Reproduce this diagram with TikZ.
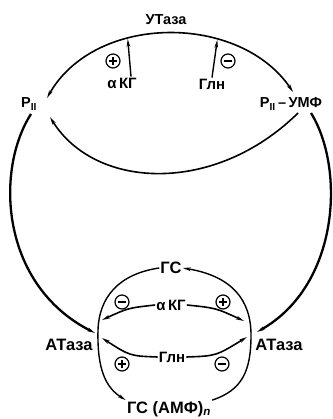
\documentclass[tikz,border=0pt]{standalone}
\usepackage{fontspec}
\setmainfont{Liberation Sans}
\usetikzlibrary{arrows.meta}
\begin{document}
\begin{tikzpicture}[x=1pt,y=-1pt,
  lbl/.style={font=\bfseries\fontsize{14.5}{16}\selectfont, inner sep=1pt},
  big/.style={font=\bfseries\fontsize{16.5}{18}\selectfont, inner sep=1pt},
  eff/.style={font=\bfseries\fontsize{15}{17}\selectfont, inner sep=1pt},
  arr/.style={-{Stealth[length=8pt,width=3.6pt]}},
  darr/.style={{Stealth[length=8pt,width=3.6pt]}-{Stealth[length=8pt,width=3.6pt]}},
  sgnbase/.style={circle,draw,line width=1.2pt,minimum size=14pt,inner sep=0pt},
  plussign/.style={sgnbase,path picture={
     \draw[line width=1.2pt] ([xshift=-4pt]path picture bounding box.center) -- ([xshift=4pt]path picture bounding box.center)
       ([yshift=-4pt]path picture bounding box.center) -- ([yshift=4pt]path picture bounding box.center);}},
  minussign/.style={sgnbase,path picture={
     \draw[line width=1.2pt] ([xshift=-4pt]path picture bounding box.center) -- ([xshift=4pt]path picture bounding box.center);}},
]
\useasboundingbox (0,0) rectangle (332,419);

% labels
\node[lbl] (uta) at (166,20) {УТаза};
\node[lbl] (pii) at (29,104) {P\textsubscript{II}};
\node[lbl] (piiu) at (291,104) {P\textsubscript{II}\,–\,УМФ};
\node[eff] (akg1) at (122,83) {α\,КГ};
\node[eff] (gln1) at (212,84) {Глн};
\node[plussign] (p1) at (113,61) {};
\node[minussign] (m1) at (228,61) {};

\node[big] (gs) at (171,268) {ГС};
\node[big] (gsamp) at (169,409) {ГС (АМФ)\textsubscript{\textit{n}}};
\node[big] (ata1) at (69,345) {АТаза};
\node[big] (ata2) at (279,345) {АТаза};
\node[eff] (akg2) at (171,305) {α\,КГ};
\node[eff] (gln2) at (172,357) {Глн};
\node[minussign] (m2) at (122,302) {};
\node[plussign] (p2) at (223,302) {};
\node[plussign] (p3) at (122,364) {};
\node[minussign] (m3) at (222,364) {};

% anchor coordinates
\coordinate (tl) at (47,98);
\coordinate (tr) at (293,92);
\coordinate (il) at (50,117);
\coordinate (ir) at (298,113);
\coordinate (bl) at (31,114);
\coordinate (br) at (311,113);
\coordinate (al) at (95,333);
\coordinate (ar) at (257,332);

% top arc (UTase)
\draw[darr,line width=1.6pt] (tl) .. controls (95,13) and (240,13) .. (tr)
   coordinate[pos=0.36] (ta1) coordinate[pos=0.67] (ta2);
\draw[arr,line width=1.4pt] ([xshift=9pt]akg1.north) -- (ta1);
\draw[arr,line width=1.4pt] (gln1.north) -- (ta2);

% inner arc
\draw[arr,line width=1.6pt] (ir) .. controls (215,195) and (95,190) .. (il);

% big outer arcs
\draw[arr,line width=2.3pt] (bl) .. controls (-5,170) and (0,285) .. (al);
\draw[arr,line width=2.3pt] (br) .. controls (345,168) and (340,285) .. (ar);

% lower cycle
\draw[arr,line width=1.4pt] (gs.west) .. controls (118,274) and (99,298) .. (98,330)
   .. controls (97,370) and (106,388) .. (gsamp.north west);
\draw[arr,line width=1.4pt] (gsamp.north east) .. controls (243,390) and (251,370) .. (251,335)
   .. controls (251,300) and (232,276) .. (gs.east);

% effector arrows
\draw[arr,line width=1.6pt] (akg2.west) .. controls (128,308) .. (102,320);
\draw[arr,line width=1.6pt] (akg2.east) .. controls (216,308) .. (244,321);
\draw[arr,line width=1.6pt] (gln2.west) .. controls (130,356) .. (102,338);
\draw[arr,line width=1.6pt] (gln2.east) .. controls (216,356) .. (247,337);
\end{tikzpicture}
\end{document}
